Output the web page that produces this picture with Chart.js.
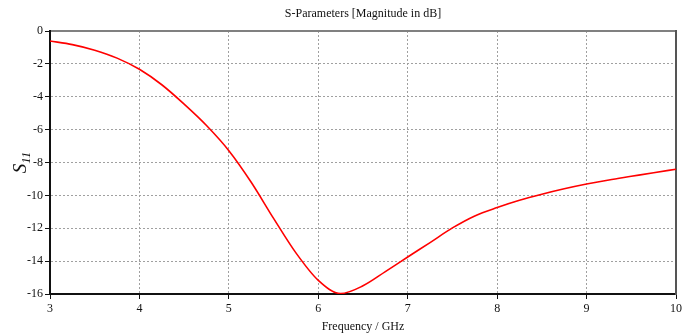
<!DOCTYPE html>
<html>
<head>
<meta charset="utf-8">
<script src="https://cdn.jsdelivr.net/npm/chart.js@4/dist/chart.umd.min.js"></script>
<style>
  html, body { margin: 0; padding: 0; background: #fff; }
  #wrap { width: 691px; height: 335px; }
</style>
</head>
<body>
<div id="wrap"><canvas id="c" width="691" height="335"></canvas></div>
<script>
const chartTitle = "S-Parameters [Magnitude in dB]";
const xTitle = "Frequency / GHz";
const yLabelMain = "S";
const yLabelSub = "11";
const frequencyGHz = [3.0, 3.25, 3.5, 3.75, 4.0, 4.25, 4.5, 4.75, 5.0, 5.25, 5.5, 5.75, 6.0, 6.25, 6.5, 6.75, 7.0, 7.25, 7.5, 7.75, 8.0, 8.25, 8.5, 8.75, 9.0, 9.25, 9.5, 9.75, 10.0];
const s11dB = [-0.61, -0.83, -1.17, -1.65, -2.33, -3.27, -4.45, -5.75, -7.28, -9.2, -11.4, -13.5, -15.17, -15.97, -15.5, -14.64, -13.75, -12.87, -11.98, -11.25, -10.74, -10.3, -9.93, -9.6, -9.31, -9.06, -8.84, -8.62, -8.41];
const xTicks = [3, 4, 5, 6, 7, 8, 9, 10];
const yTicks = [0, -2, -4, -6, -8, -10, -12, -14, -16];

const points = frequencyGHz.map((f, i) => ({ x: f, y: s11dB[i] }));
const serif = "'Liberation Serif', 'Times New Roman', serif";

const yLabelPlugin = {
  id: 'yLabel',
  afterDraw(chart) {
    const ctx = chart.ctx;
    const area = chart.chartArea;
    const cy = (area.top + area.bottom) / 2;
    ctx.save();
    ctx.translate(26, cy);
    ctx.rotate(-Math.PI / 2);
    ctx.fillStyle = '#111';
    ctx.textBaseline = 'alphabetic';
    ctx.font = "italic 19px " + serif;
    const wS = ctx.measureText(yLabelMain).width;
    ctx.font = "italic 13px " + serif;
    const wSub = ctx.measureText(yLabelSub).width;
    const total = wS + wSub;
    let x0 = -total / 2;
    ctx.font = "italic 19px " + serif;
    ctx.fillText(yLabelMain, x0, 0);
    ctx.font = "italic 13px " + serif;
    ctx.fillText(yLabelSub, x0 + wS, 4);
    ctx.restore();
  }
};

const gridCommon = { color: '#a0a0a0', lineWidth: 1, tickLength: 5, tickColor: '#111', tickBorderDash: [], tickWidth: 1 };

new Chart(document.getElementById('c'), {
  type: 'line',
  data: {
    datasets: [{
      data: points,
      borderColor: '#ff0000',
      borderWidth: 1.6,
      pointRadius: 0,
      fill: false,
      cubicInterpolationMode: 'monotone',
      xAxisID: 'x',
      yAxisID: 'y'
    }]
  },
  options: {
    responsive: false,
    animation: false,
    events: [],
    layout: { padding: 0 },
    plugins: { legend: { display: false }, tooltip: { enabled: false }, title: { display: false } },
    scales: {
      x: {
        type: 'linear', position: 'bottom', min: 3, max: 10,
        afterBuildTicks: s => { s.ticks = xTicks.map(v => ({ value: v })); },
        afterFit: s => { s.height = 41; },
        ticks: { color: '#111', font: { family: serif, size: 12 }, padding: 3, maxRotation: 0 },
        grid: gridCommon,
        border: { color: '#111', width: 2, dash: [2, 2] },
        title: { display: true, text: xTitle, color: '#111', font: { family: serif, size: 12 }, padding: { top: 2, bottom: 1 } }
      },
      xTop: {
        type: 'linear', position: 'top', min: 3, max: 10,
        afterFit: s => { s.height = 31; },
        ticks: { display: false },
        grid: { display: false, drawTicks: false },
        border: { color: '#808080', width: 2 },
        title: { display: true, text: chartTitle, color: '#111', font: { family: serif, size: 12 }, padding: { top: 7, bottom: 4 } }
      },
      y: {
        type: 'linear', position: 'left', min: -16, max: 0,
        afterBuildTicks: s => { s.ticks = yTicks.map(v => ({ value: v })); },
        afterFit: s => { s.width = 50; },
        ticks: { color: '#111', font: { family: serif, size: 12 }, padding: 2 },
        grid: gridCommon,
        border: { color: '#111', width: 2, dash: [2, 2] }
      },
      yRight: {
        type: 'linear', position: 'right', min: -16, max: 0,
        afterFit: s => { s.width = 15; },
        ticks: { display: false },
        grid: { display: false, drawTicks: false },
        border: { color: '#555', width: 2 }
      }
    }
  },
  plugins: [yLabelPlugin]
});
</script>
</body>
</html>
